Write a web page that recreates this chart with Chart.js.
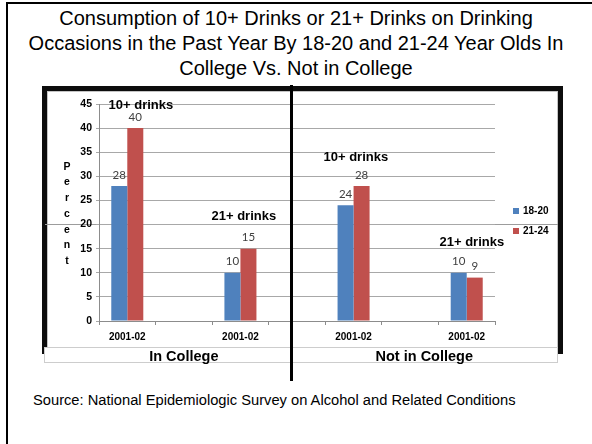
<!DOCTYPE html>
<html>
<head>
<meta charset="utf-8">
<title>Heavy drinking occasions by college status</title>
<script src="https://cdn.jsdelivr.net/npm/chart.js@4.4.0/dist/chart.umd.min.js"></script>
<style>
  html, body { margin: 0; padding: 0; background: #fff; }
  #page {
    position: relative; width: 592px; height: 444px; overflow: hidden;
    font-family: "Liberation Sans", Arial, sans-serif; color: #000;
  }
  .abs { position: absolute; }
  #frameLeft { left: 6px; top: 2px; width: 2px; height: 442px; background: #000; }
  #frameTop { left: 6px; top: 2px; width: 586px; height: 2px; background: #000; }
  #title {
    left: 0; top: 6px; width: 592px; text-align: center;
    font-size: 20px; line-height: 25px;
  }
  #box {
    left: 42px; top: 86px; width: 521px; height: 268px; box-sizing: border-box;
    border: 5px solid #0d0d0d; border-bottom: none;
  }
  #boxInner {
    left: 47px; top: 91px; width: 511px; height: 256px; box-sizing: border-box;
    border: 1px solid #c4c4c4; border-bottom: none;
  }
  #rule20 { left: 45px; top: 224px; width: 513px; height: 1px; background: #9c9c9c; }
  #groupBar {
    left: 44px; top: 347px; width: 514px; height: 16px; box-sizing: border-box;
    border: 1px solid #cdcdcd; background: #fff; z-index: 3;
  }
  .group {
    position: absolute; top: 348px; font-size: 14.5px; font-weight: bold;
    line-height: 16px; z-index: 4; transform: translateX(-50%); white-space: nowrap;
  }
  #divider { left: 290px; top: 85px; width: 2.5px; height: 296px; background: #000; z-index: 5; }
  #source { left: 33px; top: 392px; font-size: 14.7px; white-space: nowrap; }
  #chartWrap { left: 0; top: 0; width: 592px; height: 444px; z-index: 2; }
</style>
</head>
<body>
<div id="page">
  <div id="frameLeft" class="abs"></div>
  <div id="frameTop" class="abs"></div>
  <div id="title" class="abs">Consumption of 10+ Drinks or 21+ Drinks on Drinking<br>Occasions in the Past Year By 18-20 and 21-24 Year Olds In<br>College Vs. Not in College</div>
  <div id="box" class="abs"></div>
  <div id="boxInner" class="abs"></div>
  <div id="rule20" class="abs"></div>
  <div id="chartWrap" class="abs"><canvas id="myChart"></canvas></div>
  <div id="groupBar" class="abs"></div>
  <div id="divider" class="abs"></div>
  <div id="source" class="abs">Source: National Epidemiologic Survey on Alcohol and Related Conditions</div>
</div>
<script>
// categories: every other slot is left empty to space the groups apart
var periods = ['2001-02', '', '2001-02', '', '2001-02', '', '2001-02'];
var ageGroups = ['18-20', '21-24'];
var age1820 = [28, null, 10, null, 24, null, 10];
var age2124 = [40, null, 15, null, 28, null, 9];
var measures = ['10+ drinks', '21+ drinks', '10+ drinks', '21+ drinks'];
var collegeGroups = ['In College', 'Not in College'];
var yTicks = [0, 5, 10, 15, 20, 25, 30, 35, 40, 45];

var blue = '#4F81BD';
var red = '#C0504D';
var labelFont = '"Liberation Sans", Arial, sans-serif';
var valueFont = 'Lato, "Liberation Sans", sans-serif';

// where each measure caption sits, in category index / percent units
var measureAnchors = [
  { x: 0.24, y: 44.8 },
  { x: 2.06, y: 21.6 },
  { x: 4.04, y: 34.0 },
  { x: 6.09, y: 16.2 }
];
// group captions under the axis, in category index units
var groupAnchors = [1.0, 5.25];

var extras = {
  id: 'extras',
  afterDatasetsDraw: function(chart) {
    var ctx = chart.ctx;
    var x = chart.scales.x, y = chart.scales.y;
    var area = chart.chartArea;
    ctx.save();

    // value labels above the bars
    ctx.font = '11.5px ' + valueFont;
    ctx.fillStyle = '#404040';
    ctx.textAlign = 'center';
    ctx.textBaseline = 'middle';
    chart.data.datasets.forEach(function(ds, i) {
      chart.getDatasetMeta(i).data.forEach(function(bar, j) {
        if (ds.data[j] == null) return;
        ctx.fillText(String(ds.data[j]), bar.x, bar.y - 11);
      });
    });

    // measure captions
    ctx.font = 'bold 13px ' + labelFont;
    ctx.fillStyle = '#000';
    measures.forEach(function(txt, i) {
      var a = measureAnchors[i];
      ctx.fillText(txt, x.getPixelForValue(a.x), y.getPixelForValue(a.y));
    });

    // stacked axis title
    var mid = (area.top + area.bottom) / 2 + 1.5;
    var letters = 'Percent'.split('');
    ctx.font = 'bold 10.5px ' + labelFont;
    letters.forEach(function(ch, i) {
      ctx.fillText(ch, 67, mid + (i - (letters.length - 1) / 2) * 15.7);
    });

    // legend
    ctx.textAlign = 'left';
    ctx.font = 'bold 10px ' + labelFont;
    chart.data.datasets.forEach(function(ds, i) {
      var ly = mid - 3 + i * 20;
      ctx.fillStyle = ds.backgroundColor;
      ctx.fillRect(area.right + 18, ly - 3, 6, 6);
      ctx.fillStyle = '#000';
      ctx.fillText(ds.label, area.right + 28, ly);
    });
    ctx.restore();

    // group captions in the strip below the chart
    document.querySelectorAll('.group').forEach(function(el, i) {
      el.style.left = x.getPixelForValue(groupAnchors[i]) + 'px';
    });
  }
};

collegeGroups.forEach(function(name) {
  var el = document.createElement('div');
  el.className = 'group';
  el.textContent = name;
  document.getElementById('page').appendChild(el);
});

var element = document.getElementById('myChart').getContext('2d');

var chartData = {
  labels: periods,
  datasets: [
    { label: ageGroups[0], data: age1820, backgroundColor: blue, borderWidth: 0 },
    { label: ageGroups[1], data: age2124, backgroundColor: red, borderWidth: 0 }
  ]
};

var chartOptions = {
  responsive: true,
  maintainAspectRatio: false,
  animation: false,
  layout: { padding: { left: 69, right: 97, top: 104, bottom: 98 } },
  plugins: { legend: { display: false }, title: { display: false }, tooltip: { enabled: false } },
  datasets: { bar: { categoryPercentage: 0.566, barPercentage: 1.0 } },
  scales: {
    x: {
      afterFit: function(s) { s.height = 25; },
      grid: { drawOnChartArea: false, drawTicks: true, tickLength: 4, color: '#8c8c8c', offset: true },
      border: { color: '#8c8c8c', width: 1 },
      ticks: {
        autoSkip: false, maxRotation: 0, padding: 6, color: '#000',
        font: { family: labelFont, size: 10, weight: 'bold' }
      }
    },
    y: {
      min: 0, max: 45,
      afterFit: function(s) { s.width = 30; },
      afterBuildTicks: function(s) { s.ticks = yTicks.map(function(v) { return { value: v }; }); },
      grid: { color: '#a8a8a8', tickLength: 3 },
      border: { color: '#8c8c8c', width: 1 },
      ticks: {
        padding: 4, color: '#000',
        font: { family: labelFont, size: 10.5, weight: 'bold' }
      }
    }
  }
};

var chart = new Chart(element, { type: 'bar', data: chartData, options: chartOptions, plugins: [extras] });
</script>
</body>
</html>
